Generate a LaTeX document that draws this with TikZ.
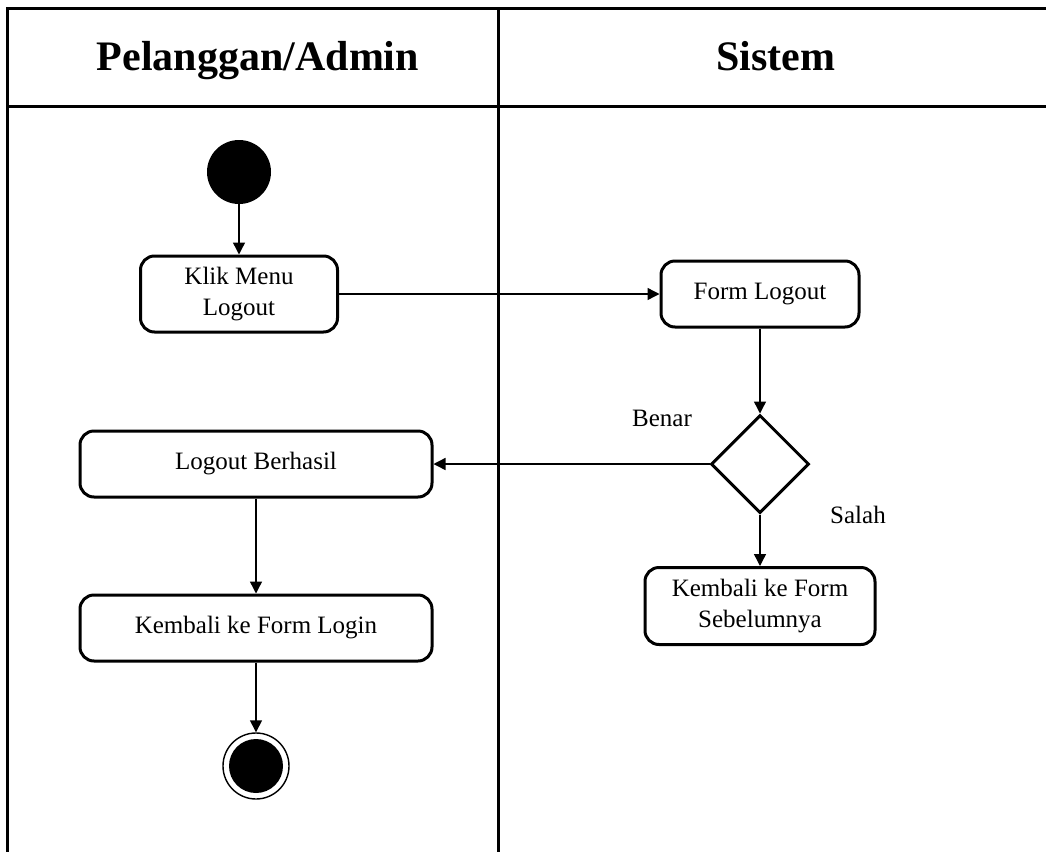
\documentclass[tikz,border=0pt]{standalone}
\usepackage{fontspec}
\setmainfont{Liberation Serif}
\usetikzlibrary{arrows.meta,shapes.geometric}
\tikzset{
  act/.style={draw, line width=1.5pt, rounded corners=7pt, align=center,
    inner sep=2pt, font=\fontsize{12.5}{15.5}\selectfont},
  lane/.style={line width=1.5pt},
  title/.style={anchor=base, font=\fontsize{21}{25}\selectfont\bfseries},
  flow/.style={line width=0.7pt, -{Triangle[length=6pt,width=6pt]}}
}
\begin{document}
\begin{tikzpicture}[x=0.5pt, y=-0.5pt]
      \useasboundingbox (0,0) rectangle (1046,852);
      % swimlanes
      \draw[lane] (1046,8) -- (7,8) -- (7,852);
      \draw[lane] (7,106) -- (1046,106);
      \draw[lane] (498,8) -- (498,852);
      \draw
        (258,70) node[title] (lane1){Pelanggan/Admin}
        (776,70) node[title] (lane2){Sistem};
      % activities
      \draw
        (239,172) node[circle, fill=black, minimum size=32pt, inner sep=0pt] (start){}
        (239,294) node[act, minimum width=98.5pt, minimum height=38pt] (klik){Klik Menu\\Logout}
        (760,294) node[act, minimum width=99pt, minimum height=33pt] (form){Form Logout}
        (760,464) node[diamond, draw, line width=1.5pt, aspect=1, minimum size=49pt, inner sep=0pt] (cek){}
        (256,464) node[act, minimum width=176pt, minimum height=33pt] (berhasil){Logout Berhasil}
        (760,606) node[act, minimum width=115pt, minimum height=38.5pt] (kembali){Kembali ke Form\\Sebelumnya}
        (256,628) node[act, minimum width=176pt, minimum height=33pt] (login){Kembali ke Form Login}
        (256,766) node[circle, draw, line width=0.7pt, minimum size=33pt, inner sep=0pt] (end){}
        (256,766) node[circle, fill=black, minimum size=27pt, inner sep=0pt] (endin){};
      \draw
        (662,418) node[font=\fontsize{12.5}{15}\selectfont] (benar){Benar}
        (858,515) node[font=\fontsize{12.5}{15}\selectfont] (salah){Salah};
      \begin{scope}[flow]
        \draw (start) to (klik);
        \draw (klik) to (form);
        \draw (form) to (cek);
        \draw (cek.west) to (berhasil.east);
        \draw (cek.south) to (kembali);
        \draw (berhasil) to (login);
        \draw (login) to (end);
      \end{scope}
    \end{tikzpicture}
\end{document}
